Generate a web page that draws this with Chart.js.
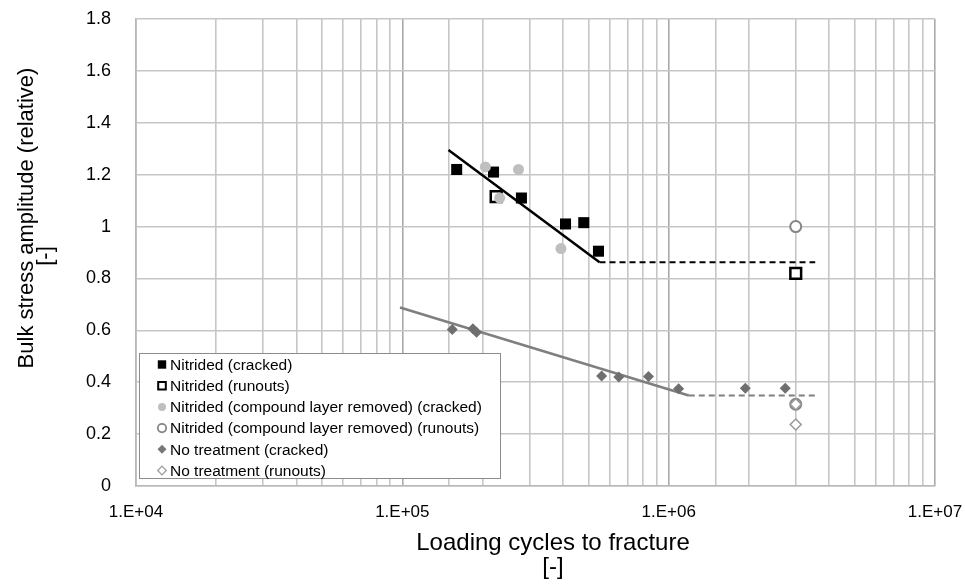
<!DOCTYPE html>
<html>
<head>
<meta charset="utf-8">
<script src="https://cdn.jsdelivr.net/npm/chart.js@4.4.0/dist/chart.umd.min.js"></script>
<style>
html, body { margin: 0; padding: 0; background: #fff; }
#wrap { width: 965px; height: 584px; position: relative; }
</style>
</head>
<body>
<div id="wrap"><canvas id="snChart"></canvas></div>
<script>
// S-N data: loading cycles (N) and relative bulk stress amplitude (S)
var nitCrackN = [1.6e5, 2.2e5, 2.8e5, 4.1e5, 4.8e5, 5.45e5];
var nitCrackS = [1.22, 1.21, 1.11, 1.01, 1.015, 0.905];
var nitRunN = [2.25e5, 3.0e6];
var nitRunS = [1.115, 0.82];
var compCrackN = [2.05e5, 2.73e5, 2.32e5, 3.94e5];
var compCrackS = [1.23, 1.22, 1.11, 0.915];
var compRunN = [3.0e6, 3.0e6];
var compRunS = [1.0, 0.315];
var noCrackN = [1.54e5, 1.84e5, 1.9e5, 5.6e5, 6.5e5, 8.4e5, 1.09e6, 1.94e6, 2.74e6];
var noCrackS = [0.603, 0.606, 0.593, 0.424, 0.42, 0.422, 0.375, 0.377, 0.377];
var noRunN = [3.0e6, 3.0e6];
var noRunS = [0.315, 0.237];

// fitted curves: sloped part and fatigue limit
var nitFitN = [1.49e5, 5.5e5];
var nitFitS = [1.295, 0.862];
var nitLimN = [5.5e5, 3.55e6];
var nitLimS = [0.862, 0.862];
var noFitN = [9.8e4, 1.19e6];
var noFitS = [0.688, 0.349];
var noLimN = [1.19e6, 3.55e6];
var noLimS = [0.349, 0.349];

var seriesNames = [
  'Nitrided (cracked)',
  'Nitrided (runouts)',
  'Nitrided (compound layer removed) (cracked)',
  'Nitrided (compound layer removed) (runouts)',
  'No treatment (cracked)',
  'No treatment (runouts)'
];

var xDecades = [1e4, 1e5, 1e6, 1e7];
var xTickLabels = ['1.E+04', '1.E+05', '1.E+06', '1.E+07'];
var yTicks = [0, 0.2, 0.4, 0.6, 0.8, 1, 1.2, 1.4, 1.6, 1.8];
var yTickLabels = ['0', '0.2', '0.4', '0.6', '0.8', '1', '1.2', '1.4', '1.6', '1.8'];

var yTitle = ['Bulk stress amplitude (relative)', '[-]'];
var xTitle = ['Loading cycles to fracture', '[-]'];

function pts(ns, ss) {
  return ns.map(function (n, i) { return { x: n, y: ss[i] }; });
}

function isDecade(v) {
  var l = Math.log10(v);
  return Math.abs(l - Math.round(l)) < 1e-9;
}

function markerSet(label, data, style, fill, stroke, bw, r, order) {
  return {
    label: label, data: data, showLine: false,
    pointStyle: style, pointRadius: r, pointHoverRadius: r,
    backgroundColor: fill, borderColor: stroke, borderWidth: bw,
    pointBackgroundColor: fill, pointBorderColor: stroke, pointBorderWidth: bw,
    order: order
  };
}

function lineSet(data, color, width, dash) {
  return {
    label: '', data: data, showLine: true, pointRadius: 0,
    borderColor: color, borderWidth: width, borderDash: dash || [],
    order: 20
  };
}

function drawMarker(ctx, style, x, y, r, fill, stroke, bw) {
  ctx.beginPath();
  if (style === 'circle') {
    ctx.arc(x, y, r, 0, Math.PI * 2);
  } else if (style === 'rect') {
    ctx.rect(x - r, y - r, 2 * r, 2 * r);
  } else {
    ctx.moveTo(x, y - r); ctx.lineTo(x + r, y); ctx.lineTo(x, y + r); ctx.lineTo(x - r, y);
    ctx.closePath();
  }
  ctx.fillStyle = fill;
  ctx.fill();
  if (bw > 0) { ctx.lineWidth = bw; ctx.strokeStyle = stroke; ctx.stroke(); }
}

// boxed legend sitting in the lower left of the plot area
var boxLegend = {
  id: 'boxLegend',
  afterDraw: function (chart) {
    var ctx = chart.ctx, ca = chart.chartArea;
    var x0 = ca.left + 3, y0 = 353, w = 361, h = 125;
    ctx.save();
    ctx.fillStyle = '#fff';
    ctx.fillRect(x0, y0, w, h);
    ctx.strokeStyle = '#8c8c8c';
    ctx.lineWidth = 1;
    ctx.strokeRect(x0 + 0.5, y0 + 0.5, w, h);
    ctx.font = '15.5px "Liberation Sans", Arial, sans-serif';
    ctx.textBaseline = 'middle';
    ctx.textAlign = 'left';
    var legendMarks = [
      ['rect', '#000', '#000', 0, 4.2],
      ['rect', '#fff', '#000', 2, 3.8],
      ['circle', '#bfbfbf', '#bfbfbf', 0, 4],
      ['circle', '#fff', '#858585', 1.8, 4.2],
      ['diamond', '#777', '#777', 0, 4.5],
      ['diamond', '#fff', '#999', 1.2, 4.3]
    ];
    seriesNames.forEach(function (name, i) {
      var cy = y0 + 11.5 + i * 21.2;
      var m = legendMarks[i];
      drawMarker(ctx, m[0], x0 + 23, cy, m[4], m[1], m[2], m[3]);
      ctx.fillStyle = '#000';
      ctx.fillText(name, x0 + 31, cy + 1);
    });
    ctx.restore();
  }
};

// two-line axis titles
var axisTitles = {
  id: 'axisTitles',
  afterDraw: function (chart) {
    var ctx = chart.ctx;
    var font = '"Liberation Sans", Arial, sans-serif';
    ctx.save();
    ctx.fillStyle = '#000';
    ctx.textAlign = 'center';
    ctx.textBaseline = 'middle';
    ctx.font = '24px ' + font;
    ctx.fillText(xTitle[0], 553, 543);
    ctx.fillText(xTitle[1], 553, 567);
    ctx.save();
    ctx.font = '22px ' + font;
    ctx.translate(27, 218);
    ctx.rotate(-Math.PI / 2);
    ctx.fillText(yTitle[0], 0, 0);
    ctx.restore();
    ctx.font = '22px ' + font;
    ctx.translate(46, 256);
    ctx.rotate(-Math.PI / 2);
    ctx.fillText(yTitle[1], 0, 0);
    ctx.restore();
  }
};

var whiteBg = {
  id: 'whiteBg',
  beforeDraw: function (chart) {
    var ctx = chart.ctx;
    ctx.save();
    ctx.fillStyle = '#fff';
    ctx.fillRect(0, 0, chart.width, chart.height);
    ctx.restore();
  }
};

var tickFont = { family: '"Liberation Sans", Arial, sans-serif', size: 17 };

new Chart(document.getElementById('snChart'), {
  type: 'scatter',
  data: {
    datasets: [
      lineSet(pts(nitFitN, nitFitS), '#000', 2.5),
      lineSet(pts(nitLimN, nitLimS), '#000', 2, [6, 4]),
      lineSet(pts(noFitN, noFitS), '#7f7f7f', 2.5),
      lineSet(pts(noLimN, noLimS), '#7f7f7f', 2, [6, 4]),
      markerSet(seriesNames[0], pts(nitCrackN, nitCrackS), 'rect', '#000', '#000', 0, 7.8, 6),
      markerSet(seriesNames[1], pts(nitRunN, nitRunS), 'rect', '#fff', '#000', 2.5, 7.6, 5),
      markerSet(seriesNames[2], pts(compCrackN, compCrackS), 'circle', '#bfbfbf', '#bfbfbf', 0, 5.5, 4),
      markerSet(seriesNames[3], pts(compRunN, compRunS), 'circle', '#fff', '#858585', 2, 5.5, 3),
      markerSet(seriesNames[4], pts(noCrackN, noCrackS), 'rectRot', '#6f6f6f', '#6f6f6f', 0, 5.5, 2),
      markerSet(seriesNames[5], pts(noRunN, noRunS), 'rectRot', '#fff', '#999', 1.5, 5.5, 1)
    ]
  },
  options: {
    responsive: true,
    maintainAspectRatio: false,
    animation: false,
    layout: { padding: { left: 0, top: 19, right: 30, bottom: 0 } },
    plugins: {
      legend: { display: false },
      tooltip: { enabled: false }
    },
    scales: {
      x: {
        type: 'logarithmic',
        min: 1e4,
        max: 1e7,
        afterFit: function (s) { s.height = 98; s.paddingLeft = 0; s.paddingRight = 0; },
        border: { color: '#b8b8b8', width: 1.5 },
        grid: {
          drawTicks: false,
          lineWidth: 1.6,
          color: function (c) { return c.tick && isDecade(c.tick.value) ? '#a9a9a9' : '#c6c6c6'; }
        },
        ticks: {
          autoSkip: false,
          maxRotation: 0,
          padding: 16,
          color: '#000',
          font: tickFont,
          callback: function (v) {
            if (!isDecade(v)) return '';
            var i = xDecades.findIndex(function (d) { return Math.abs(d - v) / d < 1e-9; });
            return i >= 0 ? xTickLabels[i] : '';
          }
        }
      },
      y: {
        min: 0,
        max: 1.8,
        afterFit: function (s) { s.width = 136; s.paddingTop = 0; s.paddingBottom = 0; },
        border: { color: '#b8b8b8', width: 1.5 },
        grid: { drawTicks: false, lineWidth: 1.6, color: '#c6c6c6' },
        ticks: {
          stepSize: 0.2,
          padding: 25,
          color: '#000',
          font: { family: tickFont.family, size: 18 },
          callback: function (v) {
            var i = yTicks.findIndex(function (t) { return Math.abs(t - v) < 1e-6; });
            return i >= 0 ? yTickLabels[i] : '';
          }
        }
      }
    }
  },
  plugins: [whiteBg, boxLegend, axisTitles]
});
</script>
</body>
</html>
